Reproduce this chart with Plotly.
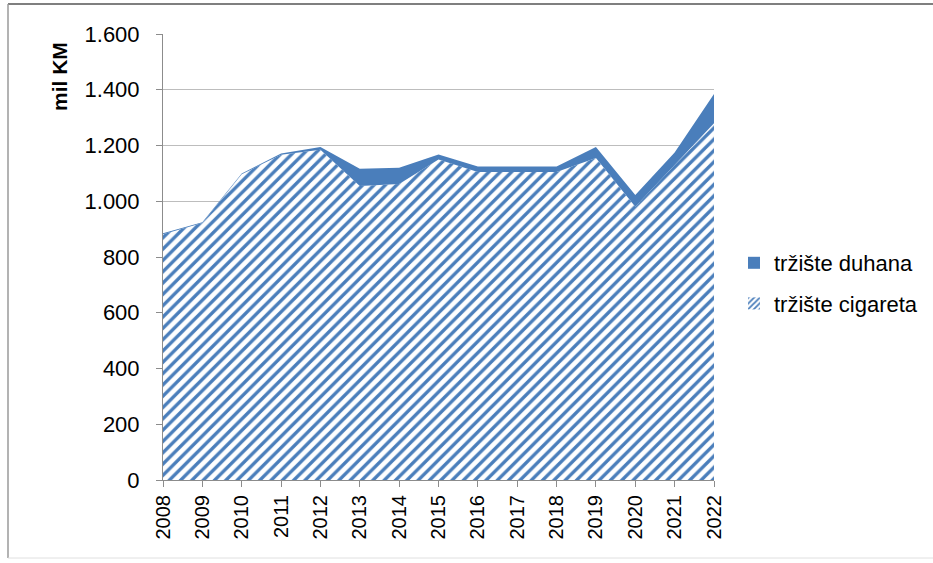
import plotly.graph_objects as go

years = list(range(2008, 2023))
cigarete = [882, 922, 1097, 1167, 1185, 1055, 1062, 1150, 1105, 1105, 1105, 1155, 980, 1130, 1280]
duhan = [3, 3, 3, 4, 10, 62, 58, 18, 20, 20, 20, 40, 42, 45, 105]
y_ticks = [0, 200, 400, 600, 800, 1000, 1200, 1400, 1600]

BLUE = "#4A7EBB"
FONT = "Liberation Sans"

fig = go.Figure()
fig.add_trace(go.Scatter(
    x=years, y=cigarete, stackgroup="s", mode="none", fillcolor=BLUE,
    fillpattern=dict(shape="/", fgcolor=BLUE, bgcolor="white", size=8, solidity=0.42,
                     fgopacity=1, fillmode="replace"),
    showlegend=False, hoverinfo="skip"))
fig.add_trace(go.Scatter(
    x=years, y=duhan, stackgroup="s", mode="none",
    fillcolor=BLUE, showlegend=False, hoverinfo="skip"))

# legend entries
fig.add_trace(go.Bar(x=[None], y=[None], name="tržište duhana",
                     marker=dict(color=BLUE, line=dict(width=0)), legendgroup="a"))
fig.add_trace(go.Bar(x=[None], y=[None], name="tržište cigareta",
                     marker=dict(color="white", line=dict(width=0),
                                 pattern=dict(shape="/", fgcolor=BLUE, bgcolor="white", size=5,
                                              solidity=0.45, fgopacity=1)),
                     legendgroup="b"))

W, H = 933, 563
L, R, T, B = 163, 714, 34, 480
pw, ph = R - L, B - T
def px(x): return (x - L) / pw
def py(y): return (B - y) / ph

fig.update_layout(
    width=W, height=H,
    margin=dict(l=L, r=W - R, t=T, b=H - B, autoexpand=False),
    paper_bgcolor="white", plot_bgcolor="white",
    separators=",.",
    font=dict(family=FONT, size=22, color="#000000"),
    showlegend=True,
    legend=dict(x=px(734), xanchor="left", y=py(242), yanchor="top",
                font=dict(size=22, color="#000000"), tracegroupgap=9,
                bgcolor="rgba(0,0,0,0)"),
    xaxis=dict(range=[2008, 2022], tickvals=years, ticktext=[str(y) for y in years],
               tickangle=-90, showgrid=False, showline=True, linecolor="#8C8C8C",
               ticks="outside", ticklen=6, tickcolor="#8C8C8C", zeroline=False,
               tickfont=dict(size=20), automargin=False),
    yaxis=dict(range=[0, 1600], tickvals=y_ticks, tickformat=",.0f",
               showgrid=True, gridcolor="#BDBDBD", gridwidth=1,
               showline=True, linecolor="#8C8C8C", ticks="outside", ticklen=6,
               tickcolor="#8C8C8C", zeroline=False, tickfont=dict(size=22),
               ticklabelstandoff=12, automargin=False),
    annotations=[dict(text="<b>mil KM</b>", xref="paper", yref="paper",
                      x=px(60), y=py(77), xanchor="center", yanchor="middle",
                      textangle=-90, showarrow=False, font=dict(size=21, color="#000000"))],
    shapes=[
        dict(type="line", xref="paper", yref="paper", x0=px(8), x1=px(933), y0=py(4), y1=py(4),
             line=dict(color="#7F7F7F", width=2)),
        dict(type="line", xref="paper", yref="paper", x0=px(8), x1=px(8), y0=py(4), y1=py(558),
             line=dict(color="#9A9A9A", width=1.5)),
        dict(type="line", xref="paper", yref="paper", x0=px(8), x1=px(933), y0=py(558), y1=py(558),
             line=dict(color="#E0E0E0", width=1)),
    ],
)

fig.write_html("out.html", config={"displayModeBar": False},
               post_script="document.body.style.margin='0';")
